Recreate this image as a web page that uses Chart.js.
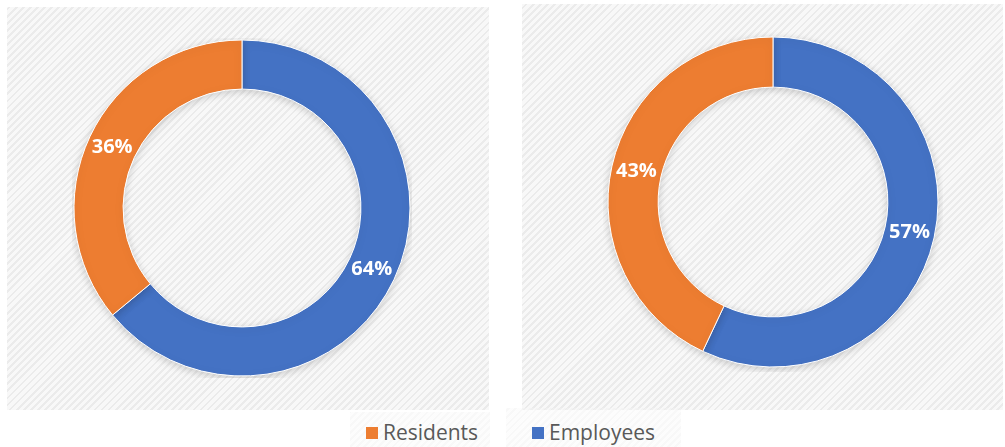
<!DOCTYPE html>
<html>
<head>
<meta charset="utf-8">
<script src="https://cdn.jsdelivr.net/npm/chart.js@4.4.0/dist/chart.umd.min.js"></script>
<style>
    html, body { margin: 0; padding: 0; background: #fff; }
    body { width: 1005px; height: 447px; position: relative; overflow: hidden; font-family: 'Open Sans', sans-serif; }
    .panel {
        position: absolute;
        background: repeating-linear-gradient(-45deg, #f8f8f8 0px, #f8f8f8 3px, #ebebeb 3px, #ebebeb 5px);
    }
    .box { position: absolute; }
    .legend-item { position: absolute; top: 418px; font-size: 21px; color: #595959; line-height: 28px; white-space: nowrap; }
    .legend-item span { display: inline-block; width: 12px; height: 12px; margin-right: 5px; vertical-align: 1px; }
</style>
</head>
<body>
<div class="panel" style="left:7px; top:7px; width:482px; height:403px;"></div>
<div class="panel" style="left:522px; top:4px; width:481px; height:406px;"></div>
<div class="panel" style="left:350px; top:412px; width:140px; height:35px; opacity:0.35;"></div>
<div class="panel" style="left:506px; top:408px; width:175px; height:39px; opacity:0.35;"></div>

<div class="box" style="left:72px; top:38px; width:340px; height:340px;"><canvas id="leftChart"></canvas></div>
<div class="box" style="left:603px; top:32px; width:340px; height:340px;"><canvas id="rightChart"></canvas></div>

<div id="legend"></div>

<script>
// Dati
const categories = ['Employees', 'Residents'];
const leftValues = [64, 36];
const rightValues = [57, 43];
const colors = ['#4472C4', '#ED7D31'];

// Etichette percentuali al centro dell'anello
const ringLabels = {
    id: 'ringLabels',
    afterDatasetsDraw(chart) {
        const ctx = chart.ctx;
        const meta = chart.getDatasetMeta(0);
        const values = chart.data.datasets[0].data;
        ctx.save();
        ctx.font = 'bold 20px "Open Sans", sans-serif';
        ctx.fillStyle = '#ffffff';
        ctx.textAlign = 'center';
        ctx.textBaseline = 'middle';
        meta.data.forEach((arc, i) => {
            const p = arc.tooltipPosition();
            ctx.fillText(values[i] + '%', p.x, p.y);
        });
        ctx.restore();
    }
};

// Ombra leggera sotto l'anello
const ringShadow = {
    id: 'ringShadow',
    beforeDatasetsDraw(chart) {
        const ctx = chart.ctx;
        ctx.save();
        ctx.shadowColor = 'rgba(0,0,0,0.18)';
        ctx.shadowBlur = 8;
        ctx.shadowOffsetY = 2;
    },
    afterDatasetsDraw(chart) {
        chart.ctx.restore();
    }
};

function renderRing(canvasId, values, outer, inner) {
    const canvas = document.getElementById(canvasId);
    return new Chart(canvas.getContext('2d'), {
        type: 'doughnut',
        data: {
            labels: categories,
            datasets: [{
                data: values,
                backgroundColor: colors,
                borderColor: '#ffffff',
                borderWidth: 1
            }]
        },
        options: {
            responsive: true,
            maintainAspectRatio: false,
            animation: false,
            radius: outer,
            cutout: inner,
            layout: { padding: 0 },
            plugins: { legend: { display: false }, tooltip: { enabled: false } }
        },
        plugins: [ringShadow, ringLabels]
    });
}

renderRing('leftChart', leftValues, 168, 120);
renderRing('rightChart', rightValues, 165, 118);

// Legenda (ordine: Residents, Employees)
const legendPos = [{ idx: 1, left: 366 }, { idx: 0, left: 532 }];
const legend = document.getElementById('legend');
legendPos.forEach(item => {
    const el = document.createElement('div');
    el.className = 'legend-item';
    el.style.left = item.left + 'px';
    el.innerHTML = '<span style="background:' + colors[item.idx] + '"></span>' + categories[item.idx];
    legend.appendChild(el);
});
</script>
</body>
</html>
